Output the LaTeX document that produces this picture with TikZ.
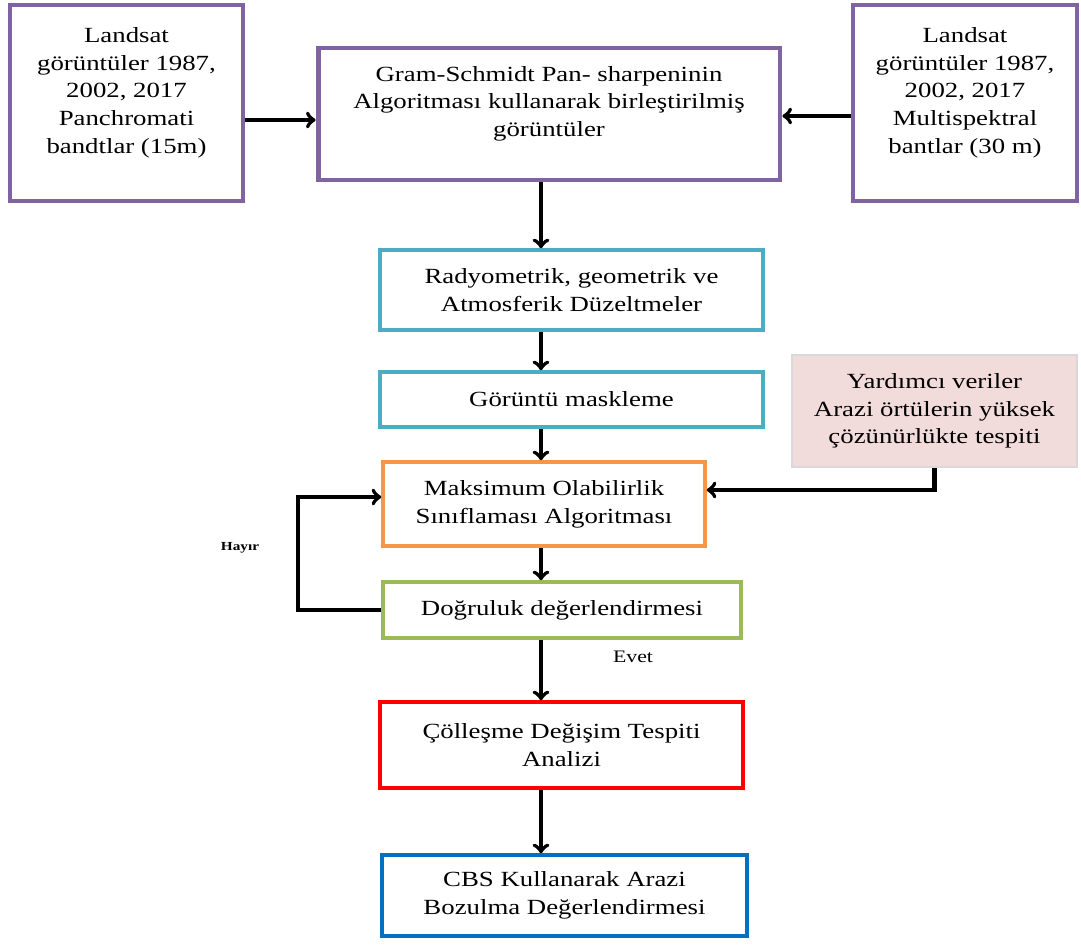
\documentclass[tikz,border=0pt]{standalone}
\usepackage{fontspec}
\setmainfont{Liberation Serif}[FakeStretch=1.24]
\usetikzlibrary{arrows}
\definecolor{boxpurple}{HTML}{8064A2}
\definecolor{boxcyan}{HTML}{4BACC6}
\definecolor{boxorange}{HTML}{F79646}
\definecolor{boxgreen}{HTML}{9BBB59}
\definecolor{boxblue}{HTML}{0070C0}
\definecolor{auxpink}{HTML}{F2DCDB}

\begin{document}
\begin{tikzpicture}[>=to,x=0.02cm,y=-0.02cm,line width=2pt,
                    font=\fontsize{12.3}{15.8}\selectfont]
  \tikzstyle{box}=[rectangle,draw,fill=white,align=center,inner sep=2pt]
  \tikzstyle{input}=[box,draw=boxpurple,line width=2.8pt,
    minimum height=3.92cm]
  \tikzstyle{flow}=[->,black,line width=2.3pt]
  \useasboundingbox (0,0) rectangle (1081,945);
  \node[input,minimum width=4.66cm,text depth=0.5cm] (pan) at (126.5,103)
    {Landsat\\görüntüler 1987,\\2002, 2017\\Panchromati\\bandtlar (15m)};
  \node[input,minimum width=9.24cm,minimum height=2.64cm,text depth=0.5cm]
    (gs) at (549,114)
    {Gram-Schmidt Pan- sharpeninin\\Algoritması kullanarak birleştirilmiş\\görüntüler};
  \node[input,minimum width=4.48cm,text depth=0.5cm] (ms) at (965,103)
    {Landsat\\görüntüler 1987,\\2002, 2017\\Multispektral\\bantlar (30 m)};
  \node[box,draw=boxcyan,minimum width=7.66cm,minimum height=1.6cm]
    (rad) at (571.5,290) {Radyometrik, geometrik ve\\Atmosferik Düzeltmeler};
  \node[box,draw=boxcyan,minimum width=7.66cm,minimum height=1.1cm]
    (mask) at (571.5,399.5) {Görüntü maskleme};
  \node[box,draw=black!15,fill=auxpink,line width=1pt,minimum width=5.7cm,
    minimum height=2.24cm] (aux) at (934.5,411)
    {Yardımcı veriler\\Arazi örtülerin yüksek\\çözünürlükte tespiti};
  \node[box,draw=boxorange,minimum width=6.44cm,minimum height=1.68cm]
    (ml) at (544,504) {Maksimum Olabilirlik\\Sınıflaması Algoritması};
  \node[box,draw=boxgreen,minimum width=7.16cm,minimum height=1.12cm]
    (acc) at (562,610) {Doğruluk değerlendirmesi};
  \node[box,draw=red,minimum width=7.26cm,minimum height=1.72cm]
    (desert) at (561.5,745) {Çölleşme Değişim Tespiti\\Analizi};
  \node[box,draw=boxblue,minimum width=7.3cm,minimum height=1.62cm]
    (cbs) at (564.5,895.5) {CBS Kullanarak Arazi\\Bozulma Değerlendirmesi};
  \node[font=\fontsize{7}{8}\selectfont\bfseries] (hayir) at (240,548) {Hayır};
  \node[font=\fontsize{10}{12}\selectfont] (evet) at (633,657) {Evet};
  \coordinate (axis) at (541,0);
  \coordinate (loop) at (298,497);
  \coordinate (panin) at (0,120);
  \coordinate (msin) at (0,116);

  \draw[flow] (pan.east |- panin) -- (gs.west |- panin);
  \draw[flow] (ms.west |- msin) -- (gs.east |- msin);
  \draw[flow] (gs.south -| axis) -- (rad.north -| axis);
  \draw[flow] (rad.south -| axis) -- (mask.north -| axis);
  \draw[flow] (mask.south -| axis) -- (ml.north -| axis);
  \draw[flow] (ml.south -| axis) -- (acc.north -| axis);
  \draw[flow] (acc.south -| axis) -- (desert.north -| axis);
  \draw[flow] (desert.south -| axis) -- (cbs.north -| axis);
  \draw[flow] (aux.south) |- ([yshift=0.28cm]ml.east);
  \draw[flow] (acc.west) -| (loop) -- (loop -| ml.west);
\end{tikzpicture}
\end{document}
